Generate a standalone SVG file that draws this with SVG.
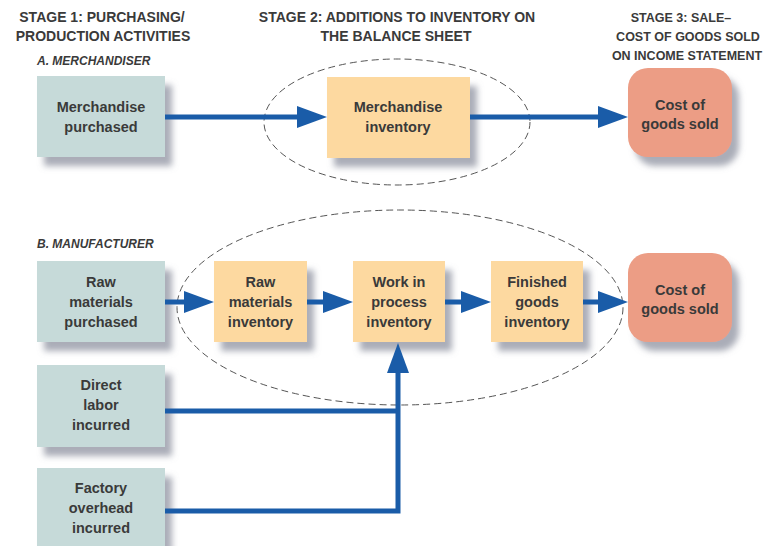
<svg xmlns="http://www.w3.org/2000/svg" width="766" height="546" viewBox="0 0 766 546">
<defs>
<filter id="sh" x="-20%" y="-20%" width="150%" height="150%">
<feGaussianBlur in="SourceAlpha" stdDeviation="3"/>
<feOffset dx="7" dy="9" result="b"/>
<feFlood flood-color="#8e92a0" flood-opacity="0.75"/>
<feComposite in2="b" operator="in" result="s"/>
<feMerge><feMergeNode in="s"/><feMergeNode in="SourceGraphic"/></feMerge>
</filter>
<marker id="ah" markerUnits="userSpaceOnUse" markerWidth="32" markerHeight="24" refX="0" refY="11" orient="auto">
<path d="M0,0 L30,11 L0,22 z" fill="#1a5ca8"/>
</marker>
</defs>
<style>
.hdr{font-family:"Liberation Sans",Arial,sans-serif;font-weight:bold;font-size:14px;fill:#3a3a3a;text-anchor:middle}
.hdr3{font-family:"Liberation Sans",Arial,sans-serif;font-weight:bold;font-size:12.5px;fill:#3a3a3a;text-anchor:middle}
.sec{font-family:"Liberation Sans",Arial,sans-serif;font-weight:bold;font-style:italic;font-size:12px;fill:#3a3a3a}
.lbl{font-family:"Liberation Sans",Arial,sans-serif;font-weight:bold;font-size:14.5px;fill:#3a3a3a;text-anchor:middle}
.src{fill:#c6dad9;filter:url(#sh)}
.inv{fill:#fdd9a0;filter:url(#sh)}
.cgs{fill:#ec9d85;filter:url(#sh)}
.ell{fill:none;stroke:#555;stroke-width:1;stroke-dasharray:7 4}
.con{fill:none;stroke:#1a5ca8;stroke-width:5;stroke-linejoin:miter}
</style>
<rect width="766" height="546" fill="#ffffff"/>

<g id="headers">
<text class="hdr" x="102" y="22">STAGE 1: PURCHASING/</text>
<text class="hdr" x="103" y="41">PRODUCTION ACTIVITIES</text>
<text class="hdr" x="397" y="22">STAGE 2: ADDITIONS TO INVENTORY ON</text>
<text class="hdr" x="396" y="41">THE BALANCE SHEET</text>
<text class="hdr3" x="681" y="22">STAGE 3: SALE–</text>
<text class="hdr3" x="688" y="41">COST OF GOODS SOLD</text>
<text class="hdr3" x="687" y="60">ON INCOME STATEMENT</text>
<text class="sec" x="37" y="65">A. MERCHANDISER</text>
<text class="sec" x="37" y="248">B. MANUFACTURER</text>
</g>

<g id="ellipses">
<ellipse class="ell" cx="397" cy="122" rx="133" ry="63"/>
<ellipse class="ell" cx="400" cy="307.5" rx="223" ry="97.5"/>
</g>

<g id="merch-purchased">
<rect class="src" x="37" y="76" width="128" height="81"/>
<text class="lbl" x="101" y="112">Merchandise</text>
<text class="lbl" x="101" y="132">purchased</text>
</g>
<g id="merch-inventory">
<rect class="inv" x="327" y="77" width="143" height="81"/>
<text class="lbl" x="398" y="112">Merchandise</text>
<text class="lbl" x="398" y="132">inventory</text>
</g>
<g id="cogs-a">
<rect class="cgs" x="628" y="68" width="104" height="89" rx="20"/>
<text class="lbl" x="680" y="110">Cost of</text>
<text class="lbl" x="680" y="129">goods sold</text>
</g>

<g id="raw-purchased">
<rect class="src" x="37" y="261" width="128" height="81"/>
<text class="lbl" x="101" y="287">Raw</text>
<text class="lbl" x="101" y="307">materials</text>
<text class="lbl" x="101" y="327">purchased</text>
</g>
<g id="raw-inventory">
<rect class="inv" x="214" y="261" width="93" height="81"/>
<text class="lbl" x="260.5" y="287">Raw</text>
<text class="lbl" x="260.5" y="307">materials</text>
<text class="lbl" x="260.5" y="327">inventory</text>
</g>
<g id="wip-inventory">
<rect class="inv" x="353" y="261" width="92" height="81"/>
<text class="lbl" x="399" y="287">Work in</text>
<text class="lbl" x="399" y="307">process</text>
<text class="lbl" x="399" y="327">inventory</text>
</g>
<g id="fg-inventory">
<rect class="inv" x="491" y="261" width="92" height="81"/>
<text class="lbl" x="537" y="287">Finished</text>
<text class="lbl" x="537" y="307">goods</text>
<text class="lbl" x="537" y="327">inventory</text>
</g>
<g id="cogs-b">
<rect class="cgs" x="628" y="253" width="104" height="89" rx="20"/>
<text class="lbl" x="680" y="295">Cost of</text>
<text class="lbl" x="680" y="314">goods sold</text>
</g>
<g id="direct-labor">
<rect class="src" x="37" y="365" width="128" height="82"/>
<text class="lbl" x="101" y="390">Direct</text>
<text class="lbl" x="101" y="410">labor</text>
<text class="lbl" x="101" y="430">incurred</text>
</g>
<g id="factory-overhead">
<rect class="src" x="37" y="468" width="128" height="95"/>
<text class="lbl" x="101" y="493">Factory</text>
<text class="lbl" x="101" y="513">overhead</text>
<text class="lbl" x="101" y="533">incurred</text>
</g>

<g id="connectors">
<path class="con" d="M165,117 H297" marker-end="url(#ah)"/>
<path class="con" d="M470,117 H598" marker-end="url(#ah)"/>
<path class="con" d="M165,302 H184" marker-end="url(#ah)"/>
<path class="con" d="M307,302 H323" marker-end="url(#ah)"/>
<path class="con" d="M445,302 H461" marker-end="url(#ah)"/>
<path class="con" d="M583,302 H598" marker-end="url(#ah)"/>
<path class="con" d="M165,411 H398"/>
<path class="con" d="M165,511 H398 V373" marker-end="url(#ah)"/>
</g>
</svg>
